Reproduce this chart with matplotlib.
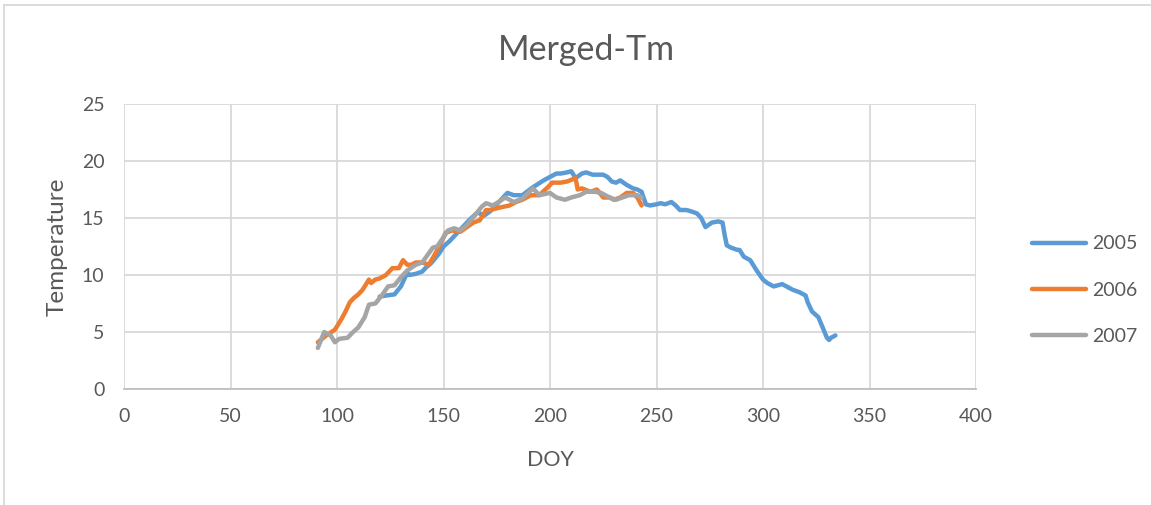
import matplotlib.pyplot as plt
from matplotlib.lines import Line2D

plt.rcParams['font.family'] = ['Lato', 'DejaVu Sans']

# daily mean temperature by day of year
doy_2005 = [120, 123, 127, 130, 133, 134, 137, 140, 142, 144, 148, 150, 153, 156, 159, 162, 166, 169,
            172, 176, 180, 183, 187, 192, 197, 200, 203, 205, 208, 210, 212, 215, 217, 220, 222, 225,
            227, 229, 231, 233, 236, 239, 241, 243, 245, 247, 250, 252, 254, 257, 259, 261, 264, 266,
            269, 271, 273, 276, 279, 281, 282, 283, 285, 288, 289, 291, 294, 297, 300, 302, 305, 307,
            309, 312, 314, 317, 320, 321, 323, 326, 328, 330, 331, 332, 334]
tm_2005 = [8.1, 8.2, 8.3, 9.0, 10.2, 10.0, 10.1, 10.3, 10.7, 11.0, 11.9, 12.5, 13.0, 13.6, 14.2, 14.8, 15.5, 15.2,
           15.6, 16.4, 17.2, 17.0, 17.0, 17.7, 18.3, 18.6, 18.9, 18.9, 19.0, 19.1, 18.5, 18.9, 19.0, 18.8, 18.8, 18.8,
           18.6, 18.2, 18.1, 18.3, 17.9, 17.6, 17.5, 17.3, 16.2, 16.1, 16.2, 16.3, 16.2, 16.4, 16.1, 15.7, 15.7, 15.6,
           15.4, 15.0, 14.2, 14.6, 14.7, 14.6, 13.5, 12.6, 12.4, 12.2, 12.2, 11.6, 11.3, 10.4, 9.6, 9.3, 9.0, 9.1,
           9.2, 8.9, 8.7, 8.5, 8.2, 7.6, 6.8, 6.3, 5.4, 4.5, 4.3, 4.5, 4.7]

doy_2006 = [91, 95, 99, 102, 104, 106, 108, 110, 112, 115, 116, 118, 120, 123, 126, 129, 131, 133, 135,
            137, 140, 143, 145, 148, 151, 154, 158, 161, 164, 167, 170, 172, 176, 181, 184, 187, 191,
            195, 199, 201, 205, 208, 212, 213, 215, 219, 222, 225, 228, 230, 233, 236, 239, 241, 243]
tm_2006 = [4.1, 4.7, 5.2, 6.1, 6.8, 7.6, 8.0, 8.3, 8.7, 9.6, 9.3, 9.6, 9.7, 10.0, 10.6, 10.6, 11.3, 10.9, 10.9,
           11.1, 11.1, 10.9, 11.5, 12.5, 13.7, 13.9, 13.8, 14.2, 14.6, 14.8, 15.7, 15.7, 15.9, 16.1, 16.4, 16.6, 17.0,
           17.0, 17.7, 18.1, 18.1, 18.2, 18.5, 17.5, 17.6, 17.3, 17.5, 16.8, 16.8, 16.6, 16.8, 17.2, 17.2, 16.8, 16.1]

doy_2007 = [91, 94, 97, 99, 101, 105, 107, 110, 113, 115, 118, 121, 124, 127, 130, 133, 137, 140, 145,
            147, 150, 152, 155, 158, 161, 165, 168, 170, 173, 175, 179, 183, 187, 192, 195, 200, 203,
            207, 210, 214, 217, 221, 224, 228, 231, 234, 237, 241, 243]
tm_2007 = [3.6, 5.0, 4.7, 4.1, 4.4, 4.5, 4.9, 5.4, 6.3, 7.4, 7.5, 8.2, 9.0, 9.1, 9.8, 10.4, 10.9, 11.1, 12.4,
           12.5, 13.3, 13.9, 14.1, 13.9, 14.4, 15.3, 16.0, 16.3, 16.1, 16.3, 16.8, 16.4, 16.7, 17.6, 17.0, 17.2, 16.8,
           16.6, 16.8, 17.0, 17.3, 17.3, 17.2, 16.8, 16.6, 16.8, 17.0, 17.0, 16.8]

text_c = '#595959'
grid_c = '#D9D9D9'

fig = plt.figure(figsize=(11.51, 5.05), dpi=100)
ax = fig.add_axes([124 / 1151, 1 - 389 / 505, (976 - 124) / 1151, (389 - 104) / 505])

ax.plot(doy_2005, tm_2005, color='#5B9BD5', lw=3.2, label='2005', solid_capstyle='round', solid_joinstyle='round')
ax.plot(doy_2006, tm_2006, color='#ED7D31', lw=3.2, label='2006', solid_capstyle='round', solid_joinstyle='round')
ax.plot(doy_2007, tm_2007, color='#A5A5A5', lw=3.2, label='2007', solid_capstyle='round', solid_joinstyle='round')

ax.set_xlim(0, 400)
ax.set_ylim(0, 25)
ax.set_xticks(range(0, 401, 50))
ax.set_yticks(range(0, 26, 5))
ax.grid(True, color=grid_c, lw=1.3)
ax.set_axisbelow(True)
for s in ['top', 'right', 'left']:
    ax.spines[s].set_visible(False)
ax.spines['bottom'].set_color('#BFBFBF')
ax.spines['bottom'].set_linewidth(1.3)
ax.tick_params(length=0, labelsize=14, colors=text_c, pad=14)

ax.set_xlabel('DOY', fontsize=15.5, color=text_c, labelpad=18)
ax.set_ylabel('Temperature', fontsize=17.5, color=text_c, labelpad=10)
fig.text(586 / 1151, 1 - 50 / 505, 'Merged-Tm', fontsize=24.5, color=text_c, ha='center', va='center')

ax.legend(loc='center left', bbox_to_anchor=(1.045, 0.347), frameon=False, fontsize=14,
          labelcolor=text_c, handlelength=2.8, handletextpad=0.3, labelspacing=1.5)

# outer chart border
fig.add_artist(Line2D([4 / 1151, 4 / 1151], [0, 1 - 5 / 505], color=grid_c, lw=1.3))
fig.add_artist(Line2D([4 / 1151, 1], [1 - 5 / 505, 1 - 5 / 505], color=grid_c, lw=1.3))

fig.savefig('out.png', dpi=100)
